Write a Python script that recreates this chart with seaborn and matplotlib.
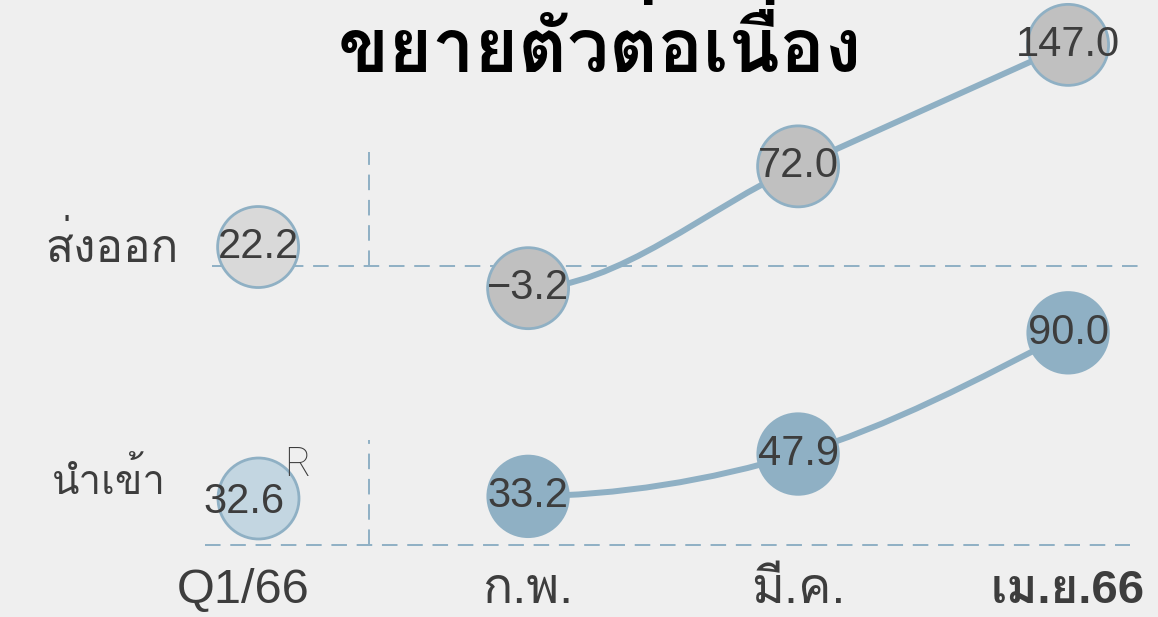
import numpy as np
import pandas as pd
import matplotlib
matplotlib.use('Agg')
import matplotlib.pyplot as plt
import seaborn as sns
from matplotlib import font_manager
from matplotlib.ft2font import FT2Font
from matplotlib.path import Path
from matplotlib.patches import PathPatch
from matplotlib.transforms import ScaledTranslation

# ข้อมูล =======================================================================
periods = ['Q1/66', 'ก.พ.', 'มี.ค.', 'เม.ย.66']
exports = [22.2, -3.2, 72.0, 147.0]
imports = [32.6, 33.2, 47.9, 90.0]
kind = ['q', 'm', 'm', 'm']
title = 'ขยายตัวต่อเนื่อง'


def find_thai_font():
    '''หาฟอนต์ที่มีอักษรไทยในเครื่อง'''
    found = []
    for f in font_manager.fontManager.ttflist:
        try:
            cmap = FT2Font(f.fname).get_charmap()
        except Exception:
            continue
        if 0x0E2A in cmap and 0x0E49 in cmap:
            found.append(f.name)
    return found[0] if found else 'DejaVu Sans'


def monotone_path(xs, ys, start=1):
    '''เส้นโค้งแบบ monotone (เหมือน d3.curveMonotoneX) เริ่มวาดที่จุด start'''
    xs = np.asarray(xs, float)
    ys = np.asarray(ys, float)
    h = np.diff(xs)
    s = np.diff(ys) / h
    t = np.zeros(len(xs))
    for i in range(1, len(xs) - 1):
        p = (s[i - 1] * h[i] + s[i] * h[i - 1]) / (h[i - 1] + h[i])
        t[i] = (np.sign(s[i - 1]) + np.sign(s[i])) * min(abs(s[i - 1]), abs(s[i]), 0.5 * abs(p))
    t[0] = (3 * s[0] - t[1]) / 2
    t[-1] = (3 * s[-1] - t[-2]) / 2
    verts = [(xs[start], ys[start])]
    codes = [Path.MOVETO]
    for i in range(start, len(xs) - 1):
        dx = h[i] / 3
        verts += [(xs[i] + dx, ys[i] + dx * t[i]),
                  (xs[i + 1] - dx, ys[i + 1] - dx * t[i + 1]),
                  (xs[i + 1], ys[i + 1])]
        codes += [Path.CURVE4] * 3
    return Path(verts, codes)


thai = find_thai_font()

sns.set_theme(style='white')
bg = '#efefef'
blue = '#8fb0c4'
txt = '#3d3d3d'
plt.rcParams['font.family'] = ['Liberation Sans', thai, 'DejaVu Sans']

fig = plt.figure(figsize=(11.58, 6.17), dpi=100, facecolor=bg)
# สองแผง: ส่งออก (บน) และ นำเข้า (ล่าง)
ax1 = fig.add_axes([0, 1 - 300 / 617, 1, 300 / 617])
ax2 = fig.add_axes([0, 1 - 560 / 617, 1, 260 / 617])
for ax in (ax1, ax2):
    ax.set_facecolor('none')
    ax.set_xlim(-0.956, 3.333)
    for sp in ax.spines.values():
        sp.set_visible(False)
ax1.set_ylim(-10.5, 174.7)
ax2.set_ylim(11.1, 101.4)

df = pd.DataFrame({'x': range(4), 'period': periods, 'exp': exports,
                   'imp': imports, 'kind': kind})
m = df[df['kind'] == 'm']

# เส้นประ
dash = dict(color=blue, lw=1.4, ls=(0, (8, 5)), zorder=1)
ax1.plot([0.183, 0.984], [0.113, 0.113], transform=ax1.transAxes, **dash)
ax1.plot([0.319, 0.319], [0.113, 0.493], transform=ax1.transAxes, **dash)
ax2.plot([0.177, 0.976], [0.058, 0.058], transform=ax2.transAxes, **dash)
ax2.plot([0.319, 0.319], [0.058, 0.462], transform=ax2.transAxes, **dash)

# เส้นเชื่อม (โค้ง)
for ax, col in ((ax1, 'exp'), (ax2, 'imp')):
    ax.add_patch(PathPatch(monotone_path(df['x'], df[col]), fc='none',
                           ec=blue, lw=4.3, zorder=2, capstyle='round'))

# วงกลม
sns.scatterplot(data=df, x='x', y='exp', hue='kind',
                palette={'q': '#d9d9d9', 'm': '#c0c0c0'}, s=3400,
                edgecolor=blue, linewidth=2, legend=False, ax=ax1,
                zorder=3, clip_on=False)
sns.scatterplot(data=df[df['kind'] == 'q'], x='x', y='imp', color='#c3d6e1',
                s=3400, edgecolor=blue, linewidth=2, legend=False, ax=ax2,
                zorder=3, clip_on=False)
sns.scatterplot(data=m, x='x', y='imp', color=blue, s=3600, edgecolor='none',
                legend=False, ax=ax2, zorder=3, clip_on=False)

for ax, col in ((ax1, 'exp'), (ax2, 'imp')):
    for x, v in zip(df['x'], df[col]):
        lab = f'{v:.1f}'.replace('-', '\u2212')
        dx = -10 if (col == 'imp' and x == 0) else 0
        dy = -3 if (col == 'imp' and x == 0) else 0
        ax.annotate(lab, (x, v), xytext=(dx, dy), textcoords='offset points',
                    ha='center', va='center', fontsize=30, color=txt,
                    zorder=4, annotation_clip=False)

ax2.annotate('R', (0, imports[0]), xytext=(28, 24), textcoords='offset points',
             ha='center', va='center', fontsize=29, color=txt,
             family=['Roboto', 'DejaVu Sans'], fontweight='light')

# ชื่อแถว
ax1.text(0.039, exports[0], 'ส่งออก', transform=ax1.get_yaxis_transform(),
         ha='left', va='center', fontsize=33, color=txt, family=[thai])
ax2.text(0.045, imports[0] + 6, 'นำเข้า', transform=ax2.get_yaxis_transform(),
         ha='left', va='center', fontsize=29, color=txt, family=[thai])

# แกน x
ax1.set_xticks([])
ax1.set_yticks([])
ax2.set_yticks([])
ax2.set_xticks(df['x'])
ax2.set_xticklabels(periods, color=txt, va='baseline')
ax2.tick_params(axis='x', length=0, pad=31)
labs = ax2.get_xticklabels()
for lab, size in zip(labs, [35, 36, 36, 34]):
    lab.set_fontsize(size)
labs[-1].set_fontweight('bold')
labs[0].set_transform(labs[0].get_transform()
                      + ScaledTranslation(-0.15, 0, fig.dpi_scale_trans))
for ax in (ax1, ax2):
    ax.set_xlabel('')
    ax.set_ylabel('')

fig.text(0.518, 0.921, title, ha='center', va='center', fontsize=54,
         fontweight='bold', color='black', family=[thai])

fig.savefig('out.png', dpi=100, facecolor=bg)
